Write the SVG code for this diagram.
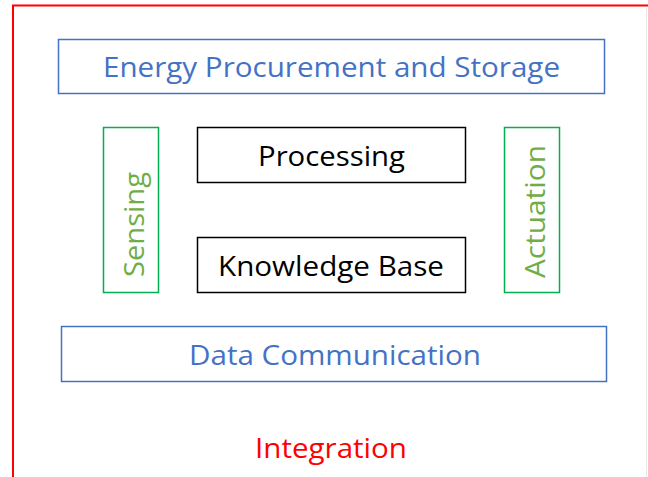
<svg xmlns="http://www.w3.org/2000/svg" width="648" height="477" viewBox="0 0 648 477">
  <style>
    text { font-family: "Open Sans", "Liberation Sans", Arial, sans-serif; font-size: 28px; text-anchor: middle; }
    .blue rect { fill: #fff; stroke: #4472C4; stroke-width: 1.5; }
    .blue text { fill: #4472C4; }
    .black rect { fill: #fff; stroke: #000; stroke-width: 1.5; }
    .black text { fill: #000; }
    .green rect { fill: #fff; stroke: #00B050; stroke-width: 1.5; }
    .green text { fill: #70AD47; }
  </style>
  <rect width="648" height="477" fill="#fff"/>
  <!-- outer integration frame -->
  <g id="integration">
    <path d="M13 477 V5.5 H648" fill="none" stroke="#FF0000" stroke-width="2"/>
    <line x1="646.5" y1="8" x2="646.5" y2="477" stroke="#e6e6e6" stroke-width="1"/>
    <text x="331" y="458" fill="#FF0000" textLength="152" lengthAdjust="spacingAndGlyphs">Integration</text>
  </g>
  <g id="energy" class="blue">
    <rect x="58.5" y="39.5" width="546" height="54"/>
    <text x="331.5" y="77" textLength="457" lengthAdjust="spacingAndGlyphs">Energy Procurement and Storage</text>
  </g>
  <g id="processing" class="black">
    <rect x="197.5" y="127.5" width="268" height="55"/>
    <text x="331.5" y="166" textLength="147" lengthAdjust="spacingAndGlyphs">Processing</text>
  </g>
  <g id="knowledge" class="black">
    <rect x="197.5" y="237.5" width="268" height="55"/>
    <text x="331" y="276" textLength="226" lengthAdjust="spacingAndGlyphs">Knowledge Base</text>
  </g>
  <g id="sensing" class="green">
    <rect x="103.5" y="127.5" width="55" height="165"/>
    <text transform="translate(144 224.5) rotate(-90)" textLength="105" lengthAdjust="spacingAndGlyphs">Sensing</text>
  </g>
  <g id="actuation" class="green">
    <rect x="504.5" y="127.5" width="55" height="165"/>
    <text transform="translate(545 211.5) rotate(-90)" textLength="133" lengthAdjust="spacingAndGlyphs">Actuation</text>
  </g>
  <g id="data" class="blue">
    <rect x="61.5" y="326.5" width="545" height="55"/>
    <text x="335" y="365" textLength="292" lengthAdjust="spacingAndGlyphs">Data Communication</text>
  </g>
  <g id="connectors"></g>
</svg>
